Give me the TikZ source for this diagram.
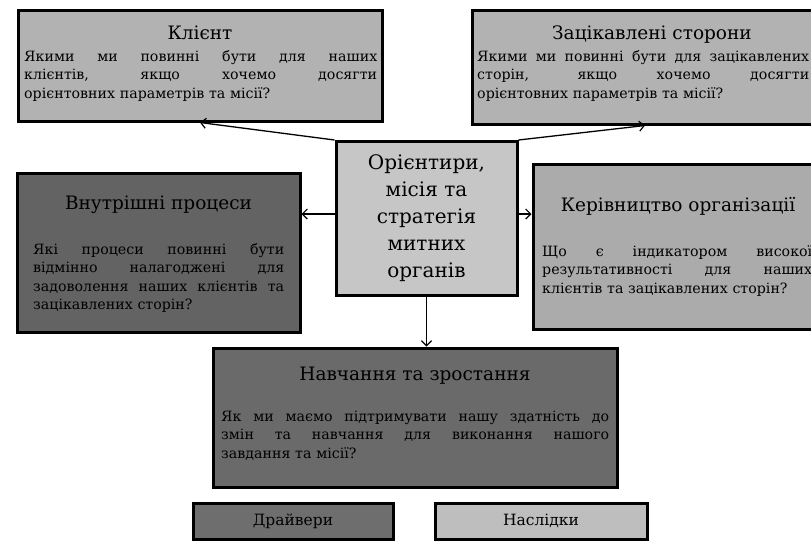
\documentclass[tikz,border=0pt]{standalone}
\usepackage{fontspec}
\setmainfont{DejaVu Serif}
\usetikzlibrary{arrows.meta}
\definecolor{gKl}{HTML}{B2B2B2}
\definecolor{gCe}{HTML}{C6C6C6}
\definecolor{gVn}{HTML}{636363}
\definecolor{gKe}{HTML}{ABABAB}
\definecolor{gNa}{HTML}{6A6A6A}
\definecolor{gDr}{HTML}{6E6E6E}
\definecolor{gNs}{HTML}{BEBEBE}
\newcommand\jline[1]{\leavevmode\hbox to \hsize{\spaceskip=0.33em plus 10em\relax\xspaceskip=0pt\relax #1}}
\begin{document}
\begin{tikzpicture}[x=1pt,y=-1pt,
  box/.style={draw=black,line width=3pt,inner sep=0pt,rectangle},
  ttl/.style={inner sep=0pt,anchor=base,font=\fontsize{18.5}{22}\selectfont},
  body/.style={inner sep=0pt,anchor=base west,align=left,font=\fontsize{14.2}{18.5}\selectfont},
  leg/.style={inner sep=0pt,font=\fontsize{15.5}{18}\selectfont},
  arr/.style={line width=1.3pt,-{Straight Barb[length=5pt,width=10pt,line width=1.2pt]}}]
\useasboundingbox (0,0) rectangle (811,542);
% boxes
\node[box,fill=gKl,minimum width=364pt,minimum height=111pt] (klient) at (200,65.5) {};
\node[box,fill=gKl,minimum width=346pt,minimum height=114pt] (stake) at (645,67) {};
\node[box,fill=gCe,minimum width=181pt,minimum height=154pt] (center) at (426.5,218.5) {};
\node[box,fill=gVn,minimum width=283pt,minimum height=159pt] (vnutr) at (158.5,252.5) {};
\node[box,fill=gKe,minimum width=285pt,minimum height=165pt] (keriv) at (675.5,246.5) {};
\node[box,fill=gNa,minimum width=404pt,minimum height=139pt] (navch) at (415,417.5) {};
\node[box,fill=gDr,minimum width=200pt,minimum height=36pt] (drv) at (293,521) {};
\node[box,fill=gNs,minimum width=212pt,minimum height=36pt] (nas) at (541,521) {};
% titles
\node[ttl] (tkl) at (200,39) {Клієнт};
\node[ttl] (tst) at (652,39) {Зацікавлені сторони};
\node[ttl] (tvn) at (158.5,209) {Внутрішні процеси};
\node[ttl] (tke) at (678,211) {Керівництво організації};
\node[ttl] (tna) at (415,380) {Навчання та зростання};
% bodies
\node[body,text width=353pt] (bkl) at (24,61) {\jline{Якими ми повинні бути для наших}\\\jline{клієнтів, якщо хочемо досягти}\\орієнтовних параметрів та місії?};
\node[body,text width=332pt] (bst) at (477,61) {\jline{Якими ми повинні бути для зацікавлених}\\\jline{сторін, якщо хочемо досягти}\\орієнтовних параметрів та місії?};
\node[body,text width=251pt] (bvn) at (33,254) {\jline{Які процеси повинні бути}\\\jline{відмінно налагоджені для}\\\jline{задоволення наших клієнтів та}\\зацікавлених сторін?};
\node[body,text width=270pt] (bke) at (542,256) {\jline{Що є індикатором високої}\\\jline{результативності для наших}\\клієнтів та зацікавлених сторін?};
\node[body,text width=388pt] (bna) at (221,421) {\jline{Як ми маємо підтримувати нашу здатність до}\\\jline{змін та навчання для виконання нашого}\\завдання та місії?};
\node[align=center,inner sep=0pt,font=\fontsize{20}{27}\selectfont] (tce) at (426.5,218.5) {Орієнтири,\\місія та\\стратегія\\митних\\органів};
% legend
\node[leg] (ldr) at (drv) {Драйвери};
\node[leg] (lns) at (nas) {Наслідки};
% arrows
\coordinate (ly) at (0,214);
\draw[arr] (center.north west) -- (klient.south);
\draw[arr] (center.north east) -- (stake.south);
\draw[arr] (center.west |- ly) -- (vnutr.east |- ly);
\draw[arr] (center.east |- ly) -- (keriv.west |- ly);
\draw[arr] (center.south) -- (navch.north -| center.south);
\end{tikzpicture}
\end{document}
